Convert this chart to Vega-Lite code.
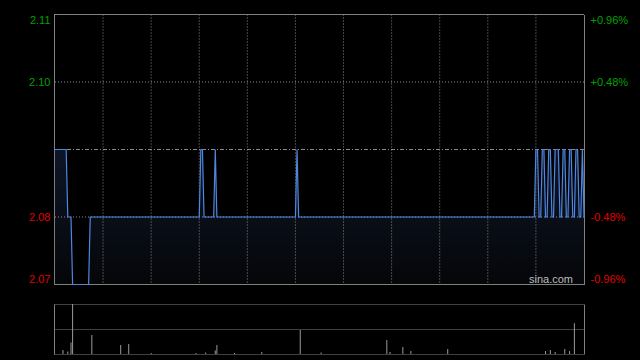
{
  "$schema": "https://vega.github.io/schema/vega-lite/v6.json",
  "width": 530,
  "height": 341,
  "autosize": {"type": "none"},
  "padding": {"left": 54, "top": 14, "right": 56, "bottom": 5},
  "background": "#000000",
  "config": {
    "view": {"stroke": null},
    "font": "Liberation Sans",
    "axis": {"ticks": false, "tickSize": 0, "title": null, "grid": false, "domainColor": "#808080", "domainWidth": 1, "labelFont": "Liberation Sans", "labelFontSize": 11}
  },
  "datasets": {
    "price": [
      {"t": 0, "p": 2.09}, {"t": 7, "p": 2.09}, {"t": 8, "p": 2.08}, {"t": 10, "p": 2.08},
      {"t": 11, "p": 2.07}, {"t": 21, "p": 2.07}, {"t": 22, "p": 2.08}, {"t": 90, "p": 2.08},
      {"t": 91, "p": 2.09}, {"t": 92, "p": 2.09}, {"t": 93, "p": 2.08}, {"t": 99, "p": 2.08},
      {"t": 100, "p": 2.09}, {"t": 101, "p": 2.08}, {"t": 150, "p": 2.08}, {"t": 151, "p": 2.09},
      {"t": 152, "p": 2.08}, {"t": 299, "p": 2.08}, {"t": 300, "p": 2.09}, {"t": 301, "p": 2.09},
      {"t": 302, "p": 2.08}, {"t": 303, "p": 2.08}, {"t": 304, "p": 2.09}, {"t": 305, "p": 2.09},
      {"t": 306, "p": 2.08}, {"t": 307, "p": 2.08}, {"t": 308, "p": 2.09}, {"t": 309, "p": 2.09},
      {"t": 310, "p": 2.08}, {"t": 311, "p": 2.08}, {"t": 312, "p": 2.09}, {"t": 314, "p": 2.09},
      {"t": 315, "p": 2.08}, {"t": 316, "p": 2.08}, {"t": 317, "p": 2.09}, {"t": 318, "p": 2.09},
      {"t": 319, "p": 2.08}, {"t": 320, "p": 2.08}, {"t": 321, "p": 2.09}, {"t": 322, "p": 2.09},
      {"t": 323, "p": 2.08}, {"t": 324, "p": 2.08}, {"t": 325, "p": 2.09}, {"t": 326, "p": 2.09},
      {"t": 327, "p": 2.08}, {"t": 328, "p": 2.08}, {"t": 329, "p": 2.09}, {"t": 330, "p": 2.08}
    ],
    "vol": [
      {"t": 5, "v": 80000}, {"t": 8, "v": 50000}, {"t": 10, "v": 230000}, {"t": 11, "v": 1000000},
      {"t": 23, "v": 380000}, {"t": 41, "v": 180000}, {"t": 46, "v": 200000}, {"t": 60, "v": 20000},
      {"t": 88, "v": 20000}, {"t": 94, "v": 30000}, {"t": 100, "v": 70000}, {"t": 101, "v": 180000},
      {"t": 112, "v": 20000}, {"t": 129, "v": 40000}, {"t": 153, "v": 480000}, {"t": 166, "v": 30000},
      {"t": 207, "v": 280000}, {"t": 209, "v": 40000}, {"t": 217, "v": 140000}, {"t": 222, "v": 60000},
      {"t": 245, "v": 100000}, {"t": 306, "v": 60000}, {"t": 309, "v": 80000}, {"t": 312, "v": 40000},
      {"t": 318, "v": 100000}, {"t": 321, "v": 60000}, {"t": 324, "v": 615000}
    ],
    "vgrid": [
      {"t": 30}, {"t": 60}, {"t": 90}, {"t": 120}, {"t": 150}, {"t": 180},
      {"t": 210}, {"t": 240}, {"t": 270}, {"t": 300}
    ],
    "levels": [{"p": 2.07}, {"p": 2.08}, {"p": 2.10}, {"p": 2.11}],
    "ref": [{"p": 2.09, "label": "sina.com"}]
  },
  "layer": [
    {
      "layer": [
        {
          "data": {"name": "price"},
          "mark": {"type": "area", "interpolate": "linear",
            "fill": {"gradient": "linear", "x1": 0, "y1": 0, "x2": 0, "y2": 1,
              "stops": [{"offset": 0, "color": "#0c1528"}, {"offset": 0.5, "color": "#090e18"}, {"offset": 1, "color": "#050608"}]}},
          "encoding": {
            "x": {"field": "t", "type": "quantitative", "scale": {"domain": [-0.6, 330], "nice": false, "zero": false}, "axis": null},
            "y": {"field": "p", "type": "quantitative",
              "scale": {"domain": [2.07, 2.11], "range": [270.5, 0.5], "nice": false, "zero": false},
              "axis": {"orient": "left", "values": [2.07, 2.08, 2.1, 2.11], "format": ".2f", "labelFlush": true, "labelPadding": 4,
                "labelColor": {"condition": {"test": "datum.value > 2.09", "value": "#00a000"}, "value": "#e00000"}}},
            "y2": {"datum": 2.07}
          }
        },
        {
          "data": {"name": "vgrid"},
          "mark": {"type": "rule", "color": "#8a8a8a", "strokeDash": [1, 2], "strokeWidth": 1},
          "encoding": {
            "x": {"field": "t", "type": "quantitative", "scale": {"domain": [-0.6, 330], "nice": false, "zero": false}, "axis": null},
            "y": {"datum": 2.11, "type": "quantitative", "scale": {"domain": [2.07, 2.11], "range": [270.5, 0.5], "nice": false, "zero": false}, "axis": null},
            "y2": {"datum": 2.07}
          }
        },
        {
          "data": {"name": "levels"},
          "transform": [{"filter": "datum.p > 2.075 && datum.p < 2.105"}],
          "mark": {"type": "rule", "color": "#8a8a8a", "strokeDash": [1, 2], "strokeWidth": 1},
          "encoding": {
            "y": {"field": "p", "type": "quantitative", "scale": {"domain": [2.07, 2.11], "range": [270.5, 0.5], "nice": false, "zero": false}, "axis": null}
          }
        },
        {
          "data": {"name": "levels"},
          "transform": [{"filter": "datum.p < 2.075 || datum.p > 2.105"}],
          "mark": {"type": "rule", "color": "#808080", "strokeWidth": 1},
          "encoding": {
            "y": {"field": "p", "type": "quantitative", "scale": {"domain": [2.07, 2.11], "range": [270.5, 0.5], "nice": false, "zero": false}, "axis": null}
          }
        },
        {
          "data": {"name": "ref"},
          "mark": {"type": "rule", "color": "#8c8c8c", "strokeDash": [4, 2, 1, 2], "strokeWidth": 1},
          "encoding": {
            "y": {"field": "p", "type": "quantitative", "scale": {"domain": [2.07, 2.11], "range": [270.5, 0.5], "nice": false, "zero": false}, "axis": null}
          }
        },
        {
          "data": {"name": "price"},
          "mark": {"type": "line", "color": "#4f86df", "strokeWidth": 1.2, "interpolate": "linear"},
          "encoding": {
            "x": {"field": "t", "type": "quantitative", "scale": {"domain": [-0.6, 330], "nice": false, "zero": false}, "axis": null},
            "y": {"field": "p", "type": "quantitative",
              "scale": {"domain": [2.07, 2.11], "range": [270.5, 0.5], "nice": false, "zero": false},
              "axis": {"orient": "right", "values": [2.07, 2.08, 2.1, 2.11], "labelFlush": true, "labelPadding": 6,
                "labelExpr": "(datum.value > 2.09 ? '+' : '-') + format(abs(datum.value / 2.09 * 100 - 100), '.2f') + '%'",
                "labelColor": {"condition": {"test": "datum.value > 2.09", "value": "#00a000"}, "value": "#e00000"}}}
          }
        },
        {
          "data": {"name": "ref"},
          "mark": {"type": "text", "align": "right", "baseline": "alphabetic", "dx": -11, "dy": -2, "color": "#bdbdbd", "fontSize": 11, "font": "Liberation Sans"},
          "encoding": {
            "x": {"datum": 330, "type": "quantitative", "scale": {"domain": [-0.6, 330], "nice": false, "zero": false}, "axis": null},
            "y": {"datum": 2.07, "type": "quantitative", "scale": {"domain": [2.07, 2.11], "range": [270.5, 0.5], "nice": false, "zero": false}, "axis": null},
            "text": {"field": "label"}
          }
        }
      ],
      "resolve": {"axis": {"y": "independent"}}
    },
    {
      "layer": [
        {
          "data": {"name": "vol"},
          "mark": {"type": "rule", "color": "#9a9a9a", "strokeWidth": 1},
          "encoding": {
            "x": {"field": "t", "type": "quantitative", "scale": {"domain": [-0.6, 330], "nice": false, "zero": false}, "axis": null},
            "y": {"field": "v", "type": "quantitative",
              "scale": {"domain": [0, 1000000], "range": [340, 290], "nice": false, "zero": true},
              "axis": {"orient": "left", "values": [0, 500000, 1000000], "labels": false, "grid": true, "gridDash": [1, 1], "gridColor": "#808080", "gridOpacity": 1, "domain": true}},
            "y2": {"datum": 0}
          }
        },
        {
          "data": {"name": "vol"},
          "mark": {"type": "rule", "opacity": 0},
          "encoding": {
            "x": {"field": "t", "type": "quantitative", "scale": {"domain": [-0.6, 330], "nice": false, "zero": false}, "axis": null},
            "y": {"field": "v", "type": "quantitative",
              "scale": {"domain": [0, 1000000], "range": [340, 290], "nice": false, "zero": true},
              "axis": {"orient": "right", "values": [0, 1000000], "labels": false, "grid": false, "domain": true}}
          }
        }
      ],
      "resolve": {"axis": {"y": "independent"}}
    }
  ],
  "resolve": {"scale": {"y": "independent"}}
}
